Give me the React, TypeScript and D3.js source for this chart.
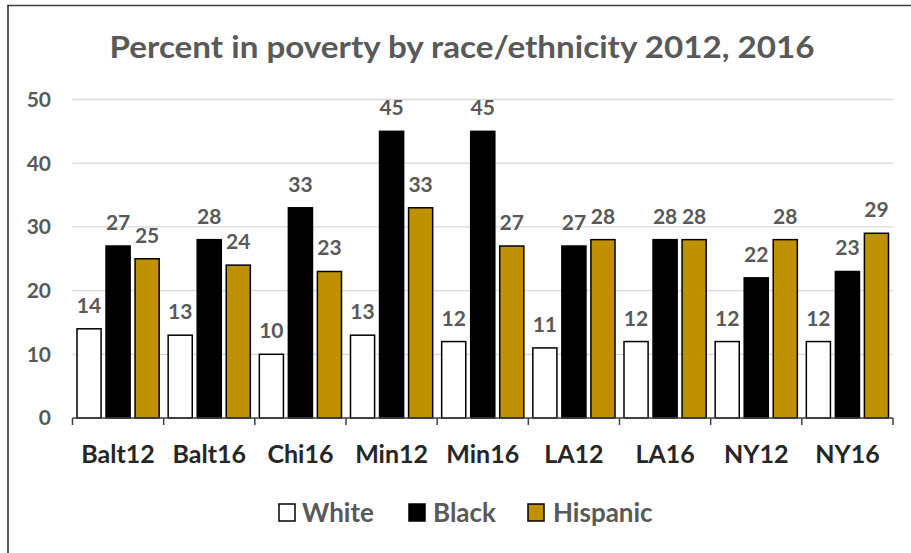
import React from "react";
import * as d3 from "d3";

const categories = ["Balt12", "Balt16", "Chi16", "Min12", "Min16", "LA12", "LA16", "NY12", "NY16"];
const seriesNames = ["White", "Black", "Hispanic"];
const whiteValues = [14, 13, 10, 13, 12, 11, 12, 12, 12];
const blackValues = [27, 28, 33, 45, 45, 27, 28, 22, 23];
const hispanicValues = [25, 24, 23, 33, 27, 28, 28, 28, 29];
const yTicks = [0, 10, 20, 30, 40, 50];
const title = "Percent in poverty by race/ethnicity 2012, 2016";

const W = 911;
const H = 553;
const fills = ["#ffffff", "#000000", "#BF9000"];
const textColor = "#595959";
const font = "Lato, 'Open Sans', 'DejaVu Sans', sans-serif";

export default function App() {
  const series = [whiteValues, blackValues, hispanicValues];
  const x = d3.scaleBand<string>().domain(categories).range([72.5, 893]).paddingInner(0).paddingOuter(0);
  const inner = d3.scaleBand<string>().domain(seriesNames).range([4.5, x.bandwidth() - 4.5]).paddingInner(0.17).paddingOuter(0);
  const y = d3.scaleLinear().domain([0, 50]).range([418, 99.5]);
  const [x0, x1] = x.range();

  const legendItems = [
    { name: "White", box: 279, text: 302 },
    { name: "Black", box: 409, text: 433 },
    { name: "Hispanic", box: 528, text: 553 },
  ];

  return (
    <svg width={W} height={H} style={{ position: "absolute", left: 0, top: 0, background: "#fff" }} fontFamily={font}>
      <rect x={0} y={0} width={W} height={H} fill="#fff" />
      <line x1={7.5} x2={W} y1={5.5} y2={5.5} stroke="#404040" strokeWidth={1.5} />
      <line x1={8} x2={8} y1={5} y2={H} stroke="#202020" strokeWidth={1.5} />
      <text x={462} y={58} textAnchor="middle" fontSize={31} fill={textColor} fontWeight={700} textLength={705} lengthAdjust="spacingAndGlyphs">
        {title}
      </text>
      {yTicks.map((t) => (
        <g key={t}>
          {t > 0 && <line x1={x0} x2={x1} y1={y(t)} y2={y(t)} stroke="#d9d9d9" strokeWidth={1.3} />}
          <text x={51} y={y(t)} dy="0.35em" textAnchor="end" fontSize={21} fontWeight={700} fill={textColor}>
            {t}
          </text>
        </g>
      ))}
      {categories.map((c, i) => (
        <g key={c} transform={`translate(${x(c)},0)`}>
          {series.map((vals, s) => {
            const bx = inner(seriesNames[s])!;
            const bw = inner.bandwidth();
            const v = vals[i];
            return (
              <g key={s}>
                <rect x={bx} y={y(v)} width={bw} height={y(0) - y(v)} fill={fills[s]} stroke="#000" strokeWidth={1.5} />
                <text x={bx + bw / 2} y={y(v) - 16} textAnchor="middle" fontSize={21} fontWeight={700} fill={textColor}>
                  {v}
                </text>
              </g>
            );
          })}
          <text x={x.bandwidth() / 2} y={463} textAnchor="middle" fontSize={25} fontWeight={700} fill="#262626">
            {c}
          </text>
        </g>
      ))}
      <line x1={x0} x2={x1} y1={y(0)} y2={y(0)} stroke="#404040" strokeWidth={1.5} />
      {d3.range(categories.length + 1).map((k) => {
        const tx = x0 + k * x.step();
        return <line key={k} x1={tx} x2={tx} y1={y(0)} y2={y(0) + 7} stroke="#404040" strokeWidth={1.5} />;
      })}
      {legendItems.map((it, s) => (
        <g key={it.name}>
          <rect x={it.box} y={504} width={16} height={17} fill={fills[s]} stroke="#000" strokeWidth={1.5} />
          <text x={it.text} y={513} dy="0.35em" fontSize={26} fontWeight={700} fill={textColor}>
            {it.name}
          </text>
        </g>
      ))}
    </svg>
  );
}
